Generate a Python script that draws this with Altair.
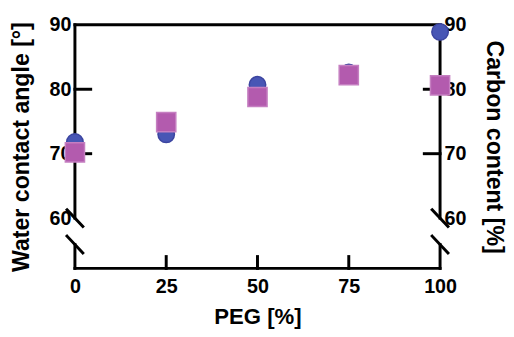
import altair as alt
import pandas as pd

# ---- data ----
peg = [0, 25, 50, 75, 100]
contact_angle = [71.8, 73.0, 80.7, 82.6, 88.9]   # circles, left axis
carbon_content = [70.2, 74.9, 78.8, 82.2, 80.6]  # squares, right axis
x_ticks = [0, 25, 50, 75, 100]
y_ticks = [60, 70, 80, 90]
inner_y_ticks = [70, 80]
inner_x_ticks = [25, 50, 75]

# ---- layout ----
X_MIN, X_MAX = 0, 100
Y_MIN, Y_MAX = 52.2, 90
BREAK_HI, BREAK_LO = 60, 55.9
W, H = 371, 247.5
ux = (X_MAX - X_MIN) / W   # data units per pixel
uy = (Y_MAX - Y_MIN) / H

FONT = "Liberation Sans"
BLUE, BLUE_EDGE = "#4856B5", "#3C45A0"
PINK, PINK_EDGE = "#B35BAE", "#C57FC1"

# axis decoration segments (frame, broken axes, inward ticks)
seg = []
seg.append((X_MIN, Y_MAX, X_MAX, Y_MAX))
seg.append((X_MIN, Y_MIN, X_MAX, Y_MIN))
for xa in (X_MIN, X_MAX):
    seg.append((xa, Y_MAX, xa, BREAK_HI))
    seg.append((xa, BREAK_LO, xa, Y_MIN))
    for yb in (BREAK_HI, BREAK_LO):
        seg.append((xa - 8 * ux, yb + 8.5 * uy, xa + 8 * ux, yb - 8.5 * uy))
for t in inner_y_ticks:
    seg.append((X_MIN, t, X_MIN + 16 * ux, t))
    seg.append((X_MAX, t, X_MAX - 16 * ux, t))
for t in inner_x_ticks:
    seg.append((t, Y_MIN, t, Y_MIN + 12 * uy))
seg_df = pd.DataFrame(seg, columns=["x", "y", "x2", "y2"])

df = pd.DataFrame({"peg": peg, "angle": contact_angle, "carbon": carbon_content})

xscale = alt.Scale(domain=[X_MIN, X_MAX], nice=False, zero=False)
yscale = alt.Scale(domain=[Y_MIN, Y_MAX], nice=False, zero=False)

x_axis = alt.Axis(values=x_ticks, domain=False, ticks=False, grid=False, tickSize=0,
                  labelFont=FONT, labelFontSize=20, labelFontWeight="bold", labelColor="black",
                  labelPadding=8.5, labelFlush=False, labelOverlap=False,
                  title="PEG [%]", titleFont=FONT, titleFontSize=22.5, titleFontWeight="bold",
                  titleColor="black", titlePadding=9)


def y_axis(title, orient, pad):
    return alt.Axis(values=y_ticks, orient=orient, domain=False, ticks=False, grid=False, tickSize=0,
                    labelFont=FONT, labelFontSize=20, labelFontWeight="bold", labelColor="black",
                    labelPadding=4, labelOverlap=False, labelFlush=False,
                    title=title, titleFont=FONT, titleFontSize=23.5, titleFontWeight="bold",
                    titleColor="black", titlePadding=pad)


frame = alt.Chart(seg_df).mark_rule(color="black", strokeWidth=3, strokeCap="square").encode(
    x=alt.X("x:Q", scale=xscale, axis=x_axis),
    x2="x2:Q",
    y=alt.Y("y:Q", scale=yscale, axis=None),
    y2="y2:Q",
)

circles = alt.Chart(df).mark_point(shape="circle", filled=True, size=280, opacity=1,
                                   fill=BLUE, stroke=BLUE_EDGE, strokeWidth=1.5).encode(
    x=alt.X("peg:Q", scale=xscale, axis=x_axis),
    y=alt.Y("angle:Q", scale=yscale, axis=y_axis("Water contact angle [°]", "left", 16)),
)

squares = alt.Chart(df).mark_point(shape="square", filled=True, size=380, opacity=1,
                                   fill=PINK, stroke=PINK_EDGE, strokeWidth=1.5).encode(
    x=alt.X("peg:Q", scale=xscale, axis=x_axis),
    y=alt.Y("carbon:Q", scale=yscale, axis=y_axis("Carbon content [%]", "right", 16)),
)

chart = alt.layer(frame, circles, squares).resolve_scale(y="independent").properties(
    width=W, height=H,
    padding={"left": 68, "top": 14.5, "right": 67, "bottom": 59},
    autosize=alt.AutoSizeParams(type="none"),
    background="white",
).configure_view(stroke=None)

chart.save("out.html", embed_options={"renderer": "svg", "actions": False})
